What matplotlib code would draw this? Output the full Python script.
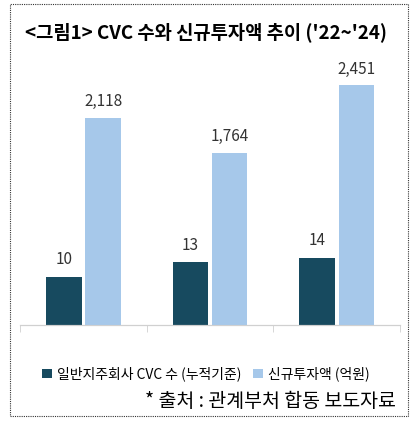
import numpy as np
import matplotlib.pyplot as plt
from matplotlib.patches import Rectangle

plt.rcParams['font.family'] = ['Noto Sans CJK KR', 'DejaVu Sans']

years = ['2022', '2023', '2024']
cvc_count = [10, 13, 14]
new_invest = [2118, 1764, 2451]

dark = '#174A5F'
light = '#A6C8EA'

fig = plt.figure(figsize=(4.12, 4.25), dpi=100)
fig.patches.append(Rectangle((0.025, 0.022), 0.965, 0.968, transform=fig.transFigure,
                             fill=False, ls=(0, (1, 1)), lw=0.8, ec='#333333'))
fig.text(0.5, 0.925, "<그림1> CVC 수와 신규투자액 추이 ('22~'24)", ha='center', va='center',
         fontsize=13.5, fontweight='bold')

ax = fig.add_axes([0.049, 0.235, 0.922, 0.624])
ax2 = ax.twinx()
x = np.arange(len(years))
w = 0.28
b1 = ax.bar(x - w / 2 - 0.015, cvc_count, w, color=dark, label='일반지주회사 CVC 수 (누적기준)')
b2 = ax2.bar(x + w / 2 + 0.015, new_invest, w, color=light, label='신규투자액 (억원)')
ax.set_ylim(0, 55)
ax2.set_ylim(0, 2712)
ax.set_xlim(-0.5, 2.5)
for r, v in zip(b1, cvc_count):
    ax.text(r.get_x() + r.get_width() / 2, v + 1.8, f'{v:,}', ha='center', va='bottom',
            fontsize=11, color='#333333')
for r, v in zip(b2, new_invest):
    ax2.text(r.get_x() + r.get_width() / 2, v + 80, f'{v:,}', ha='center', va='bottom',
             fontsize=11, color='#333333')

for a in (ax, ax2):
    a.set_yticks([])
    for s in ('top', 'left', 'right'):
        a.spines[s].set_visible(False)
    a.spines['bottom'].set_color('#D0D0D0')
ax.set_xticks(x)
ax.set_xticklabels(years, fontsize=11, fontweight='bold', color='#404040')
ax.set_xticks([-0.5, 0.5, 1.5, 2.5], minor=True)
ax.tick_params(axis='x', which='major', length=0, pad=14)
ax.tick_params(axis='x', which='minor', length=5, color='#D0D0D0')
ax2.set_xticks([])

h = [b1, b2]
fig.legend(h, [b.get_label() for b in h], loc='center', bbox_to_anchor=(0.5, 0.12), ncol=2,
           frameon=False, fontsize=10, handlelength=0.7, handleheight=0.7,
           handletextpad=0.4, columnspacing=0.8)
fig.text(0.96, 0.055, '* 출처 : 관계부처 합동 보도자료', ha='right', va='center', fontsize=14)

fig.savefig('out.png', dpi=100)
